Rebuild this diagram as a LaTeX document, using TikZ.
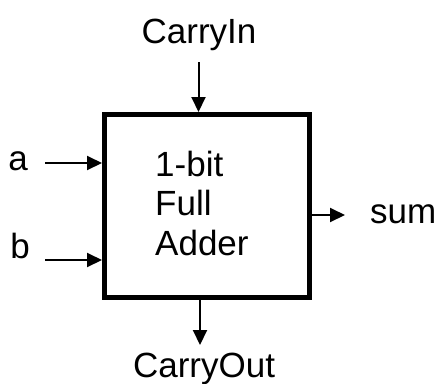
\documentclass[tikz,border=0pt]{standalone}
\usepackage{fontspec}
\setmainfont{Liberation Sans}
\usetikzlibrary{arrows.meta}
\begin{document}
\begin{tikzpicture}[x=1pt,y=-1pt,
  lbl/.style={font=\fontsize{35}{39.5}\selectfont, inner sep=0pt},
  arr/.style={line width=2pt, -{Triangle[length=15pt,width=14pt]}},
  blockbox/.style={draw, line width=5pt, minimum width=205pt, minimum height=183pt, inner sep=0pt}]
\useasboundingbox (0,0) rectangle (438,383);
\node[blockbox] (box) at (207,206) {};
\node[lbl, align=left, anchor=north west] (txt) at (155,150.5) {1-bit\\Full\\Adder};
\node[lbl, anchor=base] (cin) at (199,43) {CarryIn};
\node[lbl, anchor=base] (cout) at (204,377) {CarryOut};
\node[lbl, anchor=base] (a) at (18,170) {a};
\node[lbl, anchor=base] (b) at (20,258) {b};
\node[lbl, anchor=base west] (sum) at (370,223) {sum};
\coordinate (cinp) at (198.5,62);
\coordinate (coutp) at (200,345);
\coordinate (ap) at (45,163);
\coordinate (bp) at (45,260);
\coordinate (sump) at (345,215);
\draw[arr] (cinp) -- (cinp |- box.north);
\draw[arr] (coutp |- box.south) -- (coutp);
\draw[arr] (ap) -- (ap -| box.west);
\draw[arr] (bp) -- (bp -| box.west);
\draw[arr] (sump -| box.east) -- (sump);
\end{tikzpicture}
\end{document}
